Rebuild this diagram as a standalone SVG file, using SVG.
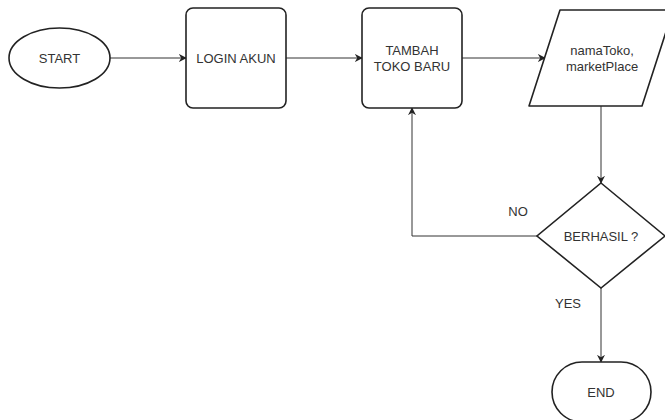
<svg xmlns="http://www.w3.org/2000/svg" width="665" height="420" viewBox="0 0 665 420">
<defs>
<marker id="arr" viewBox="0 0 10 10" refX="9" refY="5" markerWidth="8" markerHeight="8" markerUnits="userSpaceOnUse" orient="auto">
<path d="M0,0 L10,5 L0,10 L3,5 Z" fill="#222"/>
</marker>
<style>
.shape{fill:#fff;stroke:#222;stroke-width:1.6}
.conn{fill:none;stroke:#333;stroke-width:1;marker-end:url(#arr)}
text{font-family:"Liberation Sans",Arial,sans-serif;font-size:13px;fill:#333;text-anchor:middle;dominant-baseline:central}
</style>
</defs>
<rect width="665" height="420" fill="#fff"/>
<g id="connectors">
<path class="conn" d="M110,58 L186,58"/>
<path class="conn" d="M286,58 L362,58"/>
<path class="conn" d="M462,58 L545,58"/>
<path class="conn" d="M601,106 L601,183"/>
<path class="conn" d="M537,236 L412,236 L412,108"/>
<path class="conn" d="M601,288 L601,362"/>
<text x="518" y="211">NO</text>
<text x="568" y="303">YES</text>
</g>
<g id="start">
<ellipse class="shape" cx="59.5" cy="58" rx="50.5" ry="30"/>
<text x="59.5" y="58">START</text>
</g>
<g id="login">
<rect class="shape" x="186" y="8" width="100" height="100" rx="7"/>
<text x="236" y="58">LOGIN AKUN</text>
</g>
<g id="tambah">
<rect class="shape" x="362" y="8" width="100" height="100" rx="7"/>
<text x="412" y="50">TAMBAH</text>
<text x="412" y="66">TOKO BARU</text>
</g>
<g id="input">
<path class="shape" d="M529,106 L560,10 L673,10 L642,106 Z" stroke-linejoin="round"/>
<text x="602" y="50">namaToko,</text>
<text x="602" y="66">marketPlace</text>
</g>
<g id="berhasil">
<path class="shape" d="M601,183 L665,236 L601,288 L537,236 Z"/>
<text x="601" y="236">BERHASIL ?</text>
</g>
<g id="end">
<rect class="shape" x="552" y="362" width="99" height="60" rx="30"/>
<text x="601" y="392">END</text>
</g>
</svg>
